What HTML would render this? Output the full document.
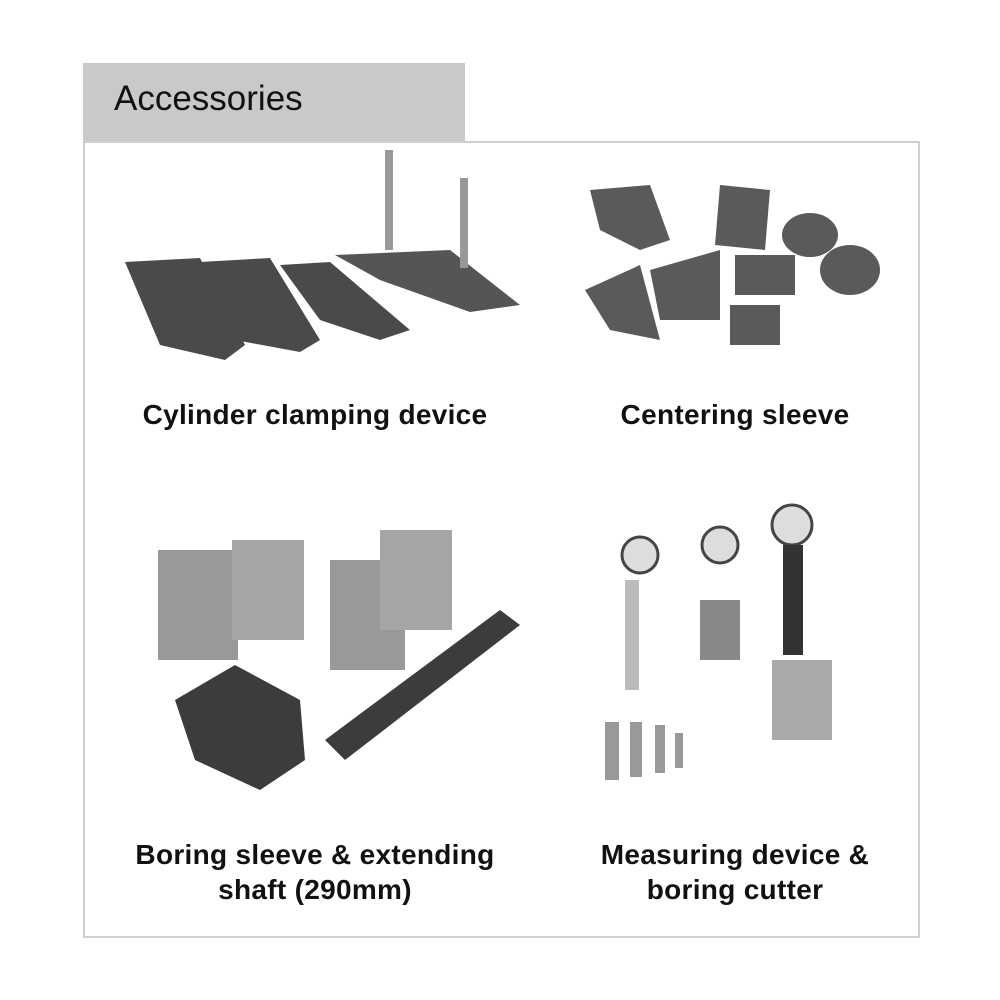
<!DOCTYPE html>
<html><head><meta charset="utf-8"><style>
html,body{margin:0;padding:0;background:#fff;width:1000px;height:1000px;overflow:hidden}
body{position:relative;font-family:"Liberation Sans",sans-serif}
.tab{position:absolute;left:83px;top:63px;width:382px;height:79px;background:#c9c9c9}
.tab span{position:absolute;left:31px;top:16px;font-size:35px;color:#111}
.box{position:absolute;left:83px;top:141px;width:833px;height:793px;border:2px solid #cfcfcf}
.lbl{position:absolute;font-weight:bold;font-size:28px;letter-spacing:0.3px;color:#111;text-align:center;line-height:35px}
svg{position:absolute;left:0;top:0}
</style></head><body>
<div class="tab"><span>Accessories</span></div>
<div class="box"></div>
<svg width="1000" height="1000">
<g fill="#4a4a4a">
<polygon points="125,262 200,258 245,345 225,360 160,345"/>
<polygon points="200,262 270,258 320,340 300,352 235,340"/>
<polygon points="280,265 330,262 410,330 380,340 320,320"/>
<polygon points="335,255 450,250 520,305 470,312 380,280" fill="#555"/>
<rect x="385" y="150" width="8" height="100" fill="#999"/>
<rect x="460" y="178" width="8" height="90" fill="#999"/>
</g>
<g fill="#5a5a5a">
<polygon points="590,190 650,185 670,240 640,250 600,230"/>
<polygon points="720,185 770,190 765,250 715,245"/>
<polygon points="585,290 640,265 660,340 610,330"/>
<polygon points="650,270 720,250 720,320 660,320"/>
<ellipse cx="810" cy="235" rx="28" ry="22"/>
<ellipse cx="850" cy="270" rx="30" ry="25"/>
<rect x="735" y="255" width="60" height="40"/>
<rect x="730" y="305" width="50" height="40"/>
</g>
<g>
<rect x="158" y="550" width="80" height="110" fill="#999"/>
<rect x="232" y="540" width="72" height="100" fill="#a5a5a5"/>
<rect x="330" y="560" width="75" height="110" fill="#999"/>
<rect x="380" y="530" width="72" height="100" fill="#a5a5a5"/>
<polygon points="175,700 235,665 300,700 305,760 260,790 195,760" fill="#3c3c3c"/>
<polygon points="325,740 500,610 520,625 345,760" fill="#3c3c3c"/>
</g>
<g>
<circle cx="640" cy="555" r="18" fill="#ddd" stroke="#444" stroke-width="3"/>
<circle cx="720" cy="545" r="18" fill="#ddd" stroke="#444" stroke-width="3"/>
<circle cx="792" cy="525" r="20" fill="#ddd" stroke="#444" stroke-width="3"/>
<rect x="625" y="580" width="14" height="110" fill="#bbb"/>
<rect x="700" y="600" width="40" height="60" fill="#888"/>
<rect x="783" y="545" width="20" height="110" fill="#333"/>
<rect x="772" y="660" width="60" height="80" fill="#aaa"/>
<g fill="#999"><rect x="605" y="722" width="14" height="58"/><rect x="630" y="722" width="12" height="55"/><rect x="655" y="725" width="10" height="48"/><rect x="675" y="733" width="8" height="35"/></g>
</g>
</svg>
<div class="lbl" style="left:115px;width:400px;top:397px">Cylinder clamping device</div>
<div class="lbl" style="left:535px;width:400px;top:397px">Centering sleeve</div>
<div class="lbl" style="left:115px;width:400px;top:837px">Boring sleeve &amp; extending<br>shaft (290mm)</div>
<div class="lbl" style="left:535px;width:400px;top:837px">Measuring device &amp;<br>boring cutter</div>
</body></html>
